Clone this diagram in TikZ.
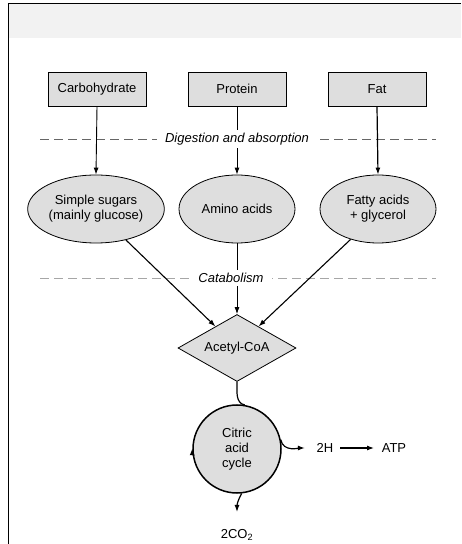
\documentclass[tikz,border=0pt]{standalone}
\usepackage{fontspec}
\setmainfont{Liberation Sans}
\usetikzlibrary{arrows.meta, shapes.geometric}

\begin{document}
\begin{tikzpicture}[x=1pt, y=1pt, font=\fontsize{13}{15}\selectfont,
    line width=0.9pt,
    >={Latex[length=7pt, width=5pt]},
    food/.style={draw, line width=0.8pt, fill=black!13, minimum width=98pt,
      minimum height=34pt},
    product/.style={ellipse, draw, line width=0.8pt, fill=black!13,
      minimum width=116pt, minimum height=68pt, align=center, inner sep=1pt},
    stage/.style={fill=white, font=\fontsize{13}{15}\selectfont\itshape,
      inner xsep=8pt, inner ysep=3pt}]
  \useasboundingbox (0, 0) rectangle (461, 544);
  \fill[black!5] (8, 506) rectangle (461, 540);
  \draw[line width=1pt] (8, 0) -- (8, 540) -- (461, 540);

  % foods
  \node[food] (carb) at (97, 455) {Carbohydrate};
  \node[food] (prot) at (237, 455) {Protein};
  \node[food] (fat) at (377, 455) {Fat};

  % what the gut takes up
  \node[product] (sugars) at (96, 335) {Simple sugars\\(mainly glucose)};
  \node[product] (amino) at (237, 335) {Amino acids};
  \node[product] (fatty) at (378, 335) {Fatty acids\\+ glycerol};

  \node[diamond, draw, line width=0.8pt, fill=black!13, aspect=1.76,
    minimum width=118pt, minimum height=67pt, inner sep=0pt] (acoa) at (237, 196) {Acetyl-CoA};
  \node[circle, draw, line width=1.5pt, fill=black!13, minimum size=88pt,
    inner sep=0pt, align=center] (cycle) at (237, 95) {Citric\\acid\\cycle};

  \node (h2) at (325, 96) {2H};
  \node (atp) at (394, 96) {ATP};
  \node (co2) at (237, 9) {2CO\textsubscript{2}};
  \coordinate (co2tip) at (237, 32);

  \draw[black!60, dash pattern=on 9pt off 5pt] (40, 405) -- (436, 405);
  \draw[black!35, dash pattern=on 9pt off 5pt] (40, 266) -- (436, 266);

  \draw[->] (carb.south) -- (sugars.north);
  \draw[->] (prot.south) -- (amino.north);
  \draw[->, line width=1.2pt] (fat.south) -- (fatty.north);

  \draw[->, line width=1.1pt] (sugars.-46) -- (acoa.135);
  \draw[->] (amino.south) -- (acoa.north);
  \draw[->, line width=1.1pt] (fatty.-132) -- (acoa.45);

  \node[stage] (dig) at (237, 405) {Digestion and absorption};
  \node[stage] (cat) at (231, 266) {Catabolism};

  \draw[line width=1.2pt] (acoa.south) to[out=-90, in=170] (cycle.80);
  \draw[->, line width=1.2pt] (cycle.188) arc[start angle=188, end angle=179, radius=44.75pt];
  \draw[->, line width=1.2pt, shorten >=8pt] (cycle.12) to[out=-80, in=180] (h2.west);
  \draw[->, line width=1.1pt, shorten <=3pt, shorten >=4pt] (h2.east) -- (atp.west);
  \draw[->, line width=1.2pt] (cycle.-84) to[out=-120, in=90] (co2tip);
\end{tikzpicture}
\end{document}
